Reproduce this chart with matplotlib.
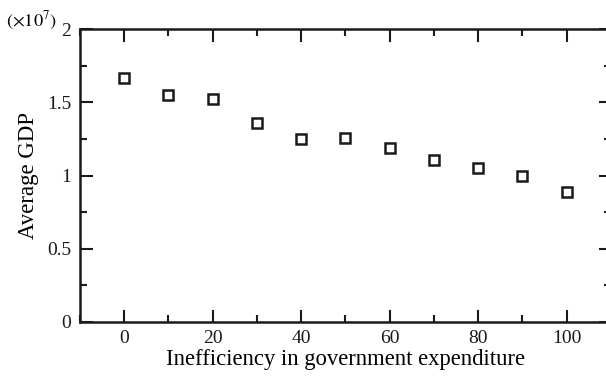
import matplotlib
matplotlib.use("Agg")
import matplotlib.pyplot as plt
from matplotlib.ticker import MultipleLocator

# inefficiency (%) vs average GDP (x10^7)
inefficiency = [0, 10, 20, 30, 40, 50, 60, 70, 80, 90, 100]
avg_gdp = [1.666, 1.55, 1.525, 1.36, 1.251, 1.26, 1.189, 1.107, 1.052, 0.995, 0.886]

plt.rcParams['font.family'] = ['Liberation Serif', 'DejaVu Serif']
plt.rcParams['mathtext.fontset'] = 'stix'

fig = plt.figure(figsize=(6.06, 3.76), dpi=100)
ax = fig.add_axes([79.7 / 606, 54 / 376, 531.3 / 606, 292.7 / 376])

ax.plot(inefficiency, avg_gdp, 's', ms=7.2, mfc='white', mec='#1a1a1a', mew=1.8, ls='none')

ax.set_xlim(-10, 110)
ax.set_ylim(0, 2)
ax.xaxis.set_major_locator(MultipleLocator(20))
ax.xaxis.set_minor_locator(MultipleLocator(10))
ax.yaxis.set_minor_locator(MultipleLocator(0.25))
ax.set_yticks([0, 0.5, 1, 1.5, 2])
ax.set_yticklabels(['0', '0.5', '1', '1.5', '2'])

ax.tick_params(which='both', direction='in', top=True, right=True, width=1.5,
               labelsize=14, colors='#1a1a1a')
ax.tick_params(which='major', length=9, pad=6)
ax.tick_params(which='minor', length=5)
for s in ax.spines.values():
    s.set_linewidth(1.8)
    s.set_color('#1a1a1a')

ax.set_xlabel('Inefficiency in government expenditure', fontsize=16.3, labelpad=1)
ax.set_ylabel('Average GDP', fontsize=16.5, labelpad=6)
fig.text(6 / 606, 1 - 21 / 376, r'$(\times 10^{7})$', fontsize=13.2, va='center', ha='left')

fig.savefig('out.png', dpi=100)
